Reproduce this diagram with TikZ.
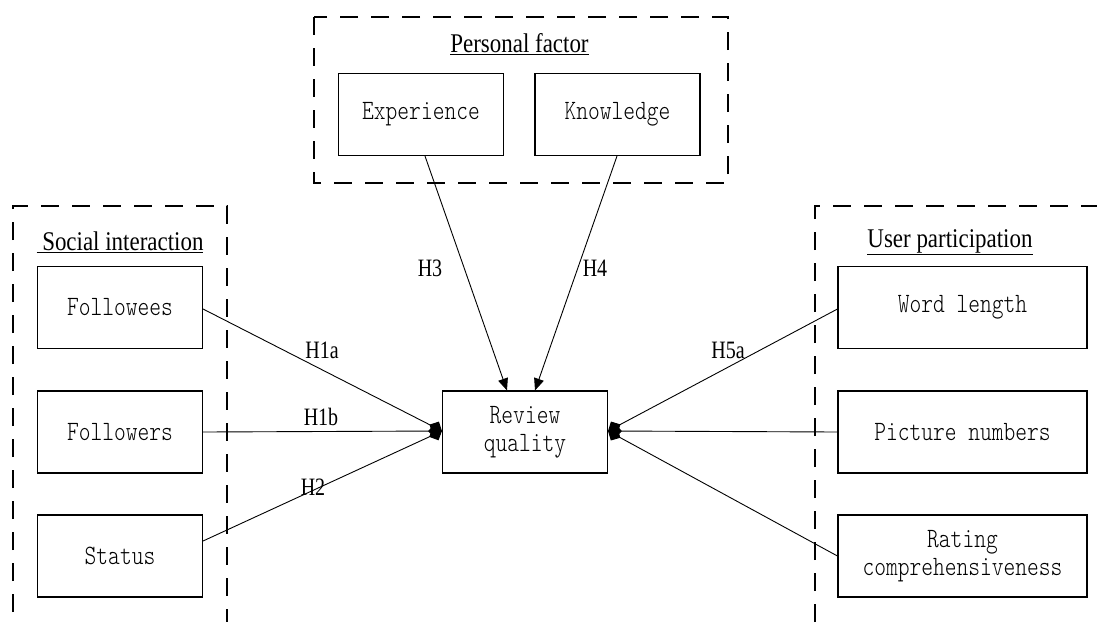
\documentclass[tikz,border=0pt]{standalone}
\usepackage{fontspec}
\setmainfont{Liberation Serif}
\newfontfamily\boxfont{lmmonolt10-regular.otf}[FakeStretch=0.8]
\usetikzlibrary{arrows.meta}
\begin{document}
\begin{tikzpicture}[x=1pt,y=-1pt,
  box/.style={draw,line width=1.1pt,minimum width=165pt,minimum height=82pt,inner sep=0pt,
    font=\boxfont\fontsize{28}{28}\selectfont,align=center},
  widebox/.style={box,minimum width=249pt},
  group/.style={line width=1.1pt,dash pattern=on 18pt off 13pt},
  title/.style={font=\fontsize{27}{30}\selectfont\addfontfeatures{FakeStretch=0.85},inner sep=0pt},
  hlab/.style={font=\fontsize{25}{28}\selectfont\addfontfeatures{FakeStretch=0.8},inner sep=0pt},
  conn/.style={line width=0.9pt},
  toparrow/.style={conn,-{Triangle[length=12pt,width=10pt]}},
  sidearrow/.style={conn,-{Diamond[length=14pt,width=14pt]}}]
\useasboundingbox (0,0) rectangle (1104,622);

% group frames
\draw[group] (314,17) rectangle (728,183);
\draw[group] (13,612) -- (13,206) -- (227,206) -- (227,622);
\draw[group] (815,622) -- (815,206) -- (1097,206);

% titles
\node[title] (tp) at (519.5,44) {\underline{Personal factor}};
\node[title] (ts) at (120,242) {\underline{\ Social interaction}};
\node[title] (tu) at (950,242) {\underline{User participation}};

% boxes
\node[box] (ex) at (421,114.5) {Experience};
\node[box] (kn) at (617.5,114.5) {Knowledge};
\node[box] (fe) at (120,307.5) {Followees};
\node[box] (fr) at (120,432) {Followers};
\node[box] (st) at (120,556) {Status};
\node[box] (rq) at (525,432) {Review\\quality};
\node[widebox] (wl) at (962.5,307.5) {Word length};
\node[widebox] (pn) at (962.5,432) {Picture numbers};
\node[widebox] (rc) at (962.5,556) {Rating\\comprehensiveness};

% helper coordinates on review quality
\coordinate (rqw) at ([yshift=1pt]rq.west);
\coordinate (rqe) at ([yshift=1pt]rq.east);
\coordinate (rqt1) at ([xshift=-18pt]rq.north);
\coordinate (rqt2) at ([xshift=10pt]rq.north);

% connectors
\draw[sidearrow] ([yshift=-1.5pt]fe.east) -- (rqw);
\draw[sidearrow] (fr.east) -- (rqw);
\draw[sidearrow] ([yshift=15pt]st.east) -- (rqw);
\draw[toparrow] ([xshift=4pt]ex.south) -- (rqt1);
\draw[toparrow] ([xshift=-0.5pt]kn.south) -- (rqt2);
\draw[sidearrow] ([yshift=-1.5pt]wl.west) -- (rqe);
\draw[sidearrow] (pn.west) -- (rqe);
\draw[sidearrow] (rc.west) -- (rqe);

% labels
\node[hlab] (h1a) at (322,350) {H1a};
\node[hlab] (h1b) at (321,417) {H1b};
\node[hlab] (h2) at (313,487) {H2};
\node[hlab] (h3) at (430,268) {H3};
\node[hlab] (h4) at (595,268) {H4};
\node[hlab] (h5a) at (728,350) {H5a};
\end{tikzpicture}
\end{document}
